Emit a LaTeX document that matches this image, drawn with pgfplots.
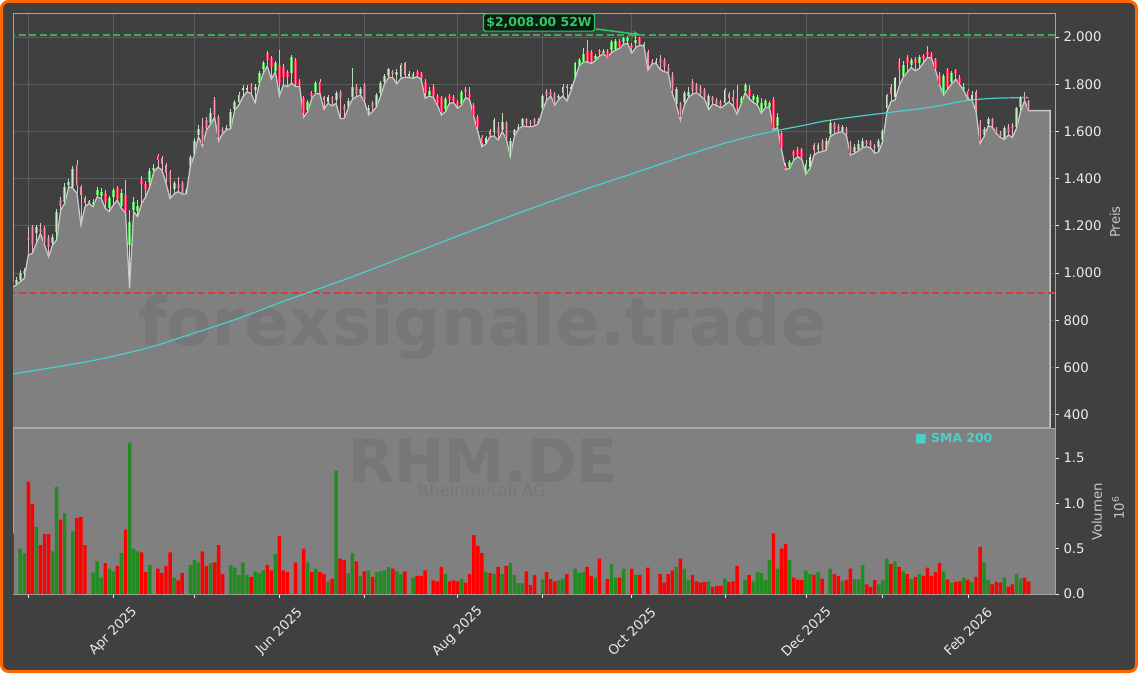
\documentclass[border=0pt]{standalone}
\usepackage{fontspec}
\setmainfont{DejaVu Sans}
\usepackage{pgfplots}
\usepackage{pgfplotstable}
\pgfplotsset{compat=1.18}
\usetikzlibrary{arrows.meta}

\definecolor{bgc}{RGB}{64,64,64}
\definecolor{areac}{RGB}{128,128,128}
\definecolor{arealine}{RGB}{200,200,200}
\definecolor{gridc}{RGB}{92,92,92}
\definecolor{spine}{RGB}{165,165,165}
\definecolor{orangec}{RGB}{255,102,0}
\definecolor{smac}{RGB}{72,209,204}
\definecolor{hic}{RGB}{60,170,95}
\definecolor{loc}{RGB}{215,60,60}
\definecolor{vgreen}{RGB}{34,139,34}
\definecolor{vred}{RGB}{255,0,0}
\definecolor{cgreen}{RGB}{90,200,90}
\definecolor{cgreenin}{RGB}{200,235,200}
\definecolor{cred}{RGB}{235,45,90}
\definecolor{credin}{RGB}{255,140,165}
\definecolor{wickg}{RGB}{185,220,185}
\definecolor{wickr}{RGB}{230,180,195}
\definecolor{wm}{RGB}{119,119,119}
\definecolor{tickc}{RGB}{235,235,235}
\definecolor{labc}{RGB}{200,200,200}
\definecolor{annfill}{RGB}{12,28,18}
\definecolor{anngreen}{RGB}{50,200,100}

\pgfplotsset{
  upd/.style={restrict expr to domain={\thisrow{d}}{0.5:1.5}},
  dnd/.style={restrict expr to domain={\thisrow{d}}{-0.5:0.5}},
  candle/.style={only marks, mark=none, mark size=0pt, mark options={draw=none, fill=none}},
}

\pgfplotstableread{
x lo o c hi v d
-4 940 960 946 972 0.67 0
-3 949 955 971 983 0 1
-2 963 970 999 1013 0.50 1
-1 977 1000 1010 1020 0.45 1
0 1076 1150 1141 1196 1.24 0
1 1083 1196 1119 1205 0.99 0
2 1126 1168 1196 1205 0.74 1
3 1168 1185 1172 1213 0.54 0
4 1119 1190 1125 1200 0.66 0
5 1069 1150 1112 1160 0.66 0
6 1119 1126 1154 1165 0.47 1
7 1140 1175 1260 1270 1.18 1
8 1267 1310 1285 1320 0.82 0
9 1295 1300 1366 1380 0.89 1
10 1366 1372 1385 1400 0 1
11 1359 1366 1441 1455 0.69 1
12 1338 1458 1373 1479 0.84 0
13 1203 1366 1331 1375 0.85 0
14 1281 1319 1298 1325 0.54 0
15 1295 1300 1305 1310 0 1
16 1281 1295 1300 1315 0.235 1
17 1323 1330 1352 1365 0.36 1
18 1316 1325 1345 1360 0.18 1
19 1274 1340 1302 1350 0.34 0
20 1260 1274 1316 1325 0.28 1
21 1288 1321 1352 1362 0.25 1
22 1309 1359 1315 1370 0.31 0
23 1274 1285 1340 1355 0.45 1
24 1256 1330 1262 1394 0.71 0
25 935 1120 1215 1265 1.67 1
26 1260 1268 1300 1323 0.50 1
27 1239 1262 1285 1309 0.47 1
28 1295 1397 1377 1410 0.46 0
29 1323 1377 1355 1390 0.24 0
30 1366 1387 1434 1445 0.32 1
31 1429 1435 1445 1460 0 1
32 1448 1496 1479 1505 0.28 0
33 1436 1486 1462 1495 0.23 0
34 1380 1458 1422 1465 0.31 0
35 1316 1427 1380 1435 0.46 0
36 1335 1356 1380 1390 0.18 1
37 1345 1375 1360 1408 0.15 0
38 1335 1380 1340 1390 0.23 0
39 1335 1340 1350 1360 0 1
40 1451 1455 1493 1500 0.32 1
41 1500 1505 1560 1571 0.375 1
42 1578 1585 1610 1627 0.35 1
43 1538 1620 1545 1655 0.47 0
44 1606 1650 1615 1662 0.31 0
45 1630 1635 1680 1698 0.34 1
46 1660 1733 1670 1745 0.35 0
47 1560 1662 1575 1670 0.54 0
48 1592 1612 1600 1620 0.22 0
49 1606 1608 1615 1625 0 1
50 1612 1617 1684 1695 0.32 1
51 1691 1695 1726 1735 0.29 1
52 1712 1726 1754 1765 0.21 1
53 1747 1775 1783 1795 0.35 1
54 1768 1778 1785 1795 0.21 1
55 1761 1797 1775 1805 0.19 0
56 1722 1775 1790 1800 0.25 1
57 1797 1804 1846 1855 0.23 1
58 1846 1863 1891 1900 0.26 1
59 1877 1931 1903 1940 0.32 0
60 1821 1910 1874 1920 0.26 0
61 1853 1858 1888 1900 0.44 1
62 1750 1880 1805 1945 0.64 0
63 1797 1874 1832 1885 0.26 0
64 1790 1853 1832 1860 0.24 0
65 1804 1846 1917 1925 0 1
66 1790 1903 1800 1910 0.35 0
67 1790 1810 1798 1820 0 0
68 1660 1740 1677 1750 0.50 0
69 1684 1690 1726 1735 0.35 1
70 1740 1761 1750 1770 0.24 0
71 1761 1768 1804 1815 0.28 1
72 1759 1811 1761 1820 0.24 0
73 1694 1744 1733 1752 0.22 0
74 1719 1726 1747 1755 0.14 1
75 1708 1744 1722 1752 0.17 0
76 1719 1733 1761 1770 1.36 1
77 1655 1768 1740 1775 0.39 0
78 1655 1708 1691 1715 0.375 0
79 1698 1705 1730 1740 0.23 1
80 1736 1745 1790 1867 0.45 1
81 1747 1790 1760 1800 0.36 0
82 1754 1760 1780 1790 0.20 1
83 1726 1797 1735 1805 0.25 0
84 1670 1680 1700 1712 0.26 1
85 1684 1722 1705 1730 0.19 0
86 1705 1708 1754 1762 0.24 1
87 1750 1761 1804 1812 0.25 1
88 1804 1811 1835 1842 0.26 1
89 1829 1835 1863 1870 0.30 1
90 1828 1853 1846 1860 0.28 0
91 1801 1840 1850 1865 0.25 1
92 1825 1832 1881 1888 0.22 1
93 1829 1888 1840 1895 0.25 0
94 1829 1835 1845 1855 0 1
95 1825 1832 1843 1850 0.18 1
96 1832 1853 1840 1860 0.20 0
97 1821 1846 1825 1852 0.20 0
98 1740 1811 1761 1820 0.26 0
99 1750 1755 1770 1790 0 1
100 1744 1790 1750 1800 0.15 0
101 1712 1750 1720 1760 0.14 0
102 1669 1740 1684 1750 0.30 0
103 1684 1693 1737 1745 0.22 1
104 1719 1750 1736 1758 0.14 0
105 1722 1747 1730 1755 0.15 0
106 1698 1726 1712 1735 0.14 0
107 1712 1715 1768 1775 0.165 1
108 1744 1780 1768 1790 0.125 0
109 1733 1760 1745 1790 0.22 0
110 1662 1712 1665 1720 0.65 0
111 1599 1662 1620 1670 0.53 0
112 1535 1578 1549 1585 0.45 0
113 1547 1550 1571 1580 0.24 1
114 1578 1600 1585 1612 0.23 0
115 1580 1599 1648 1655 0.22 1
116 1564 1620 1590 1640 0.30 0
117 1599 1605 1640 1677 0.22 1
118 1571 1634 1575 1645 0.31 0
119 1493 1505 1560 1571 0.34 1
120 1578 1585 1605 1612 0.21 1
121 1609 1612 1620 1630 0.12 1
122 1623 1627 1651 1658 0.12 1
123 1620 1651 1637 1658 0.25 0
124 1620 1641 1630 1648 0.10 0
125 1623 1651 1637 1658 0.21 0
126 1634 1637 1645 1655 0 1
127 1691 1698 1750 1757 0.16 1
128 1733 1773 1750 1780 0.24 0
129 1750 1768 1755 1780 0.165 0
130 1712 1758 1726 1765 0.14 0
131 1736 1740 1750 1760 0.15 1
132 1750 1761 1790 1800 0.17 1
133 1729 1794 1782 1800 0.22 0
134 1773 1778 1790 1800 0 1
135 1825 1828 1888 1895 0.28 1
136 1877 1881 1902 1910 0.235 1
137 1893 1900 1930 1952 0.24 1
138 1895 1940 1900 1987 0.30 0
139 1888 1935 1895 1945 0.20 0
140 1900 1905 1920 1930 0.18 1
141 1919 1941 1931 1950 0.39 0
142 1928 1932 1940 1950 0 1
143 1914 1942 1917 1950 0.165 0
144 1934 1945 1980 1988 0.33 1
145 1945 1948 1983 1990 0.18 1
146 1952 1980 1959 1990 0.18 0
147 1970 1980 1994 2000 0.28 1
148 1973 1985 1995 2005 0 1
149 1931 1966 1952 1975 0.28 0
150 1956 1976 1987 2008 0.21 1
151 1966 1994 1970 2000 0.21 0
152 1962 1966 1972 1980 0 1
153 1860 1935 1880 1945 0.29 0
154 1886 1895 1890 1905 0 0
155 1888 1892 1900 1910 0 1
156 1863 1905 1890 1925 0.22 0
157 1853 1901 1875 1910 0.125 0
158 1849 1868 1855 1885 0.22 0
159 1761 1840 1770 1850 0.26 0
160 1712 1715 1780 1790 0.30 1
161 1648 1719 1662 1725 0.39 0
162 1712 1726 1764 1772 0.28 1
163 1744 1750 1765 1790 0.155 1
164 1758 1811 1770 1820 0.21 0
165 1764 1797 1770 1805 0.14 0
166 1750 1790 1764 1798 0.125 0
167 1736 1775 1740 1782 0.13 0
168 1693 1712 1750 1758 0.14 1
169 1716 1744 1730 1752 0.08 0
170 1710 1733 1715 1740 0.09 0
171 1700 1725 1710 1735 0.09 0
172 1712 1719 1775 1782 0.17 1
173 1725 1760 1740 1768 0.13 0
174 1708 1745 1730 1775 0.14 0
175 1674 1740 1690 1797 0.31 0
176 1716 1720 1740 1750 0 1
177 1764 1770 1797 1805 0.155 1
178 1739 1780 1750 1797 0.21 0
179 1722 1733 1750 1758 0.14 1
180 1713 1720 1745 1755 0.24 1
181 1677 1685 1720 1740 0.23 1
182 1702 1708 1730 1738 0.155 1
183 1702 1705 1722 1730 0.375 1
184 1606 1733 1615 1745 0.67 0
185 1617 1622 1660 1680 0.28 1
186 1521 1592 1530 1600 0.50 0
187 1439 1453 1443 1465 0.55 0
188 1443 1450 1472 1480 0.375 1
189 1479 1514 1496 1520 0.18 0
190 1493 1520 1500 1535 0.155 0
191 1482 1524 1490 1530 0.155 0
192 1419 1425 1460 1478 0.26 1
193 1443 1448 1490 1505 0.22 1
194 1500 1542 1521 1550 0.21 0
195 1511 1520 1542 1550 0.24 1
196 1514 1561 1521 1568 0.17 0
197 1521 1525 1560 1570 0 1
198 1578 1590 1634 1650 0.28 1
199 1589 1630 1610 1640 0.22 0
200 1595 1623 1603 1630 0.20 0
201 1599 1601 1617 1625 0.14 1
202 1583 1609 1590 1620 0.155 0
203 1500 1540 1510 1560 0.28 0
204 1507 1512 1535 1545 0.165 1
205 1518 1522 1545 1565 0.16 1
206 1532 1535 1560 1570 0.32 1
207 1535 1558 1545 1565 0.105 0
208 1530 1555 1540 1562 0.08 0
209 1507 1538 1528 1545 0.155 0
210 1514 1535 1561 1568 0.105 1
211 1561 1565 1600 1610 0.155 1
212 1684 1698 1754 1760 0.39 1
213 1726 1790 1760 1800 0.33 0
214 1733 1747 1825 1832 0.36 1
215 1792 1900 1862 1910 0.30 0
216 1829 1835 1880 1900 0.25 1
217 1849 1914 1891 1922 0.22 0
218 1871 1881 1902 1910 0.165 1
219 1857 1905 1890 1915 0.19 0
220 1867 1888 1914 1922 0.22 1
221 1891 1921 1905 1930 0.20 0
222 1914 1938 1924 1962 0.29 0
223 1910 1928 1915 1935 0.20 0
224 1860 1905 1865 1912 0.24 0
225 1797 1840 1801 1850 0.34 0
226 1754 1760 1835 1845 0.25 1
227 1780 1860 1790 1868 0.16 0
228 1801 1811 1849 1858 0.125 1
229 1821 1860 1846 1866 0.135 0
230 1797 1825 1805 1840 0.14 0
231 1773 1778 1790 1805 0.18 1
232 1736 1770 1745 1780 0.155 0
233 1733 1738 1755 1770 0.135 1
234 1684 1768 1690 1775 0.19 0
235 1549 1640 1560 1650 0.52 0
236 1578 1583 1609 1620 0.35 1
237 1623 1631 1651 1660 0.155 1
238 1620 1651 1627 1658 0.105 0
239 1592 1609 1599 1618 0.135 0
240 1575 1592 1580 1600 0.125 0
241 1566 1570 1613 1625 0.18 1
242 1585 1620 1595 1630 0.08 0
243 1575 1627 1613 1635 0.105 0
244 1613 1620 1698 1705 0.22 1
245 1684 1702 1744 1752 0.17 1
246 1730 1750 1740 1765 0.18 0
247 1688 1729 1700 1735 0.14 0
252.3 1688 1688 1688 1688 0 2
}\ohlc

\pgfplotstableread{
x s
-4 572
8 605
18 636
30 685
40 740
52 808
63 880
77 965
87 1030
99 1110
112 1196
124 1272
136 1346
149 1420
161 1490
171 1545
181 1590
191 1624
197 1645
205 1664
212 1679
223 1703
230 1726
234 1735
238 1740
242 1742
247 1743
}\sma

\begin{document}
\begin{tikzpicture}[x=1pt,y=1pt]
\useasboundingbox (0,0) rectangle (1138,673);
\fill[bgc, draw=orangec, line width=3pt, rounded corners=7pt] (1.5,1.5) rectangle (1136.5,671.5);

\begin{axis}[
  at={(13pt,245pt)}, anchor=south west, scale only axis,
  width=1042pt, height=415pt,
  xmin=-3.78, xmax=253.5, ymin=343.2, ymax=2101.7,
  axis background/.style={fill=bgc},
  axis line style={spine, line width=0.8pt},
  xtick={0,21,41,62,83,106,127,149,172,192,211,232},
  xticklabels={}, xtick style={draw=none},
  ytick={400,600,800,1000,1200,1400,1600,1800,2000},
  yticklabels={400,600,800,1.000,1.200,1.400,1.600,1.800,2.000},
  ytick pos=right, yticklabel pos=right,
  tick align=outside, major tick length=4pt,
  ytick style={tickc, line width=0.8pt},
  xmajorgrids, ymajorgrids,
  major grid style={gridc, line width=0.8pt},
  /pgf/number format/assume math mode=true,
  ticklabel style={font=\fontsize{13.3}{16}\selectfont, text=tickc},
  yticklabel style={anchor=west, xshift=1pt},
]
\addplot[fill=areac, draw=arealine, line width=1.3pt] table[x=x,y=lo]{\ohlc} \closedcycle;
\node[anchor=base, text=wm, font=\bfseries\fontsize{66}{70}\selectfont, inner sep=0pt] at (rel axis cs:0.4501,0.1976) {forexsignale.trade};
\addplot[hic, line width=1.5pt, dash pattern=on 7pt off 3.5pt] coordinates {(-5,2008) (255,2008)};
\addplot[loc, line width=1.5pt, dash pattern=on 7pt off 3.5pt] coordinates {(-5,915) (255,915)};
\addplot[smac, line width=1.2pt, smooth] table[x=x,y=s]{\sma};
% wicks
\addplot[candle, upd, error bars/.cd, y dir=both, y explicit, error mark=none, error bar style={wickg, line width=0.8pt}]
  table[x=x, y expr={(\thisrow{lo}+\thisrow{hi})/2}, y error expr={(\thisrow{hi}-\thisrow{lo})/2}]{\ohlc};
\addplot[candle, dnd, error bars/.cd, y dir=both, y explicit, error mark=none, error bar style={wickr, line width=0.8pt}]
  table[x=x, y expr={(\thisrow{lo}+\thisrow{hi})/2}, y error expr={(\thisrow{hi}-\thisrow{lo})/2}]{\ohlc};
% bodies
\addplot[candle, upd, error bars/.cd, y dir=both, y explicit, error mark=none, error bar style={cgreen, line width=2.8pt}]
  table[x=x, y expr={(\thisrow{o}+\thisrow{c})/2}, y error expr={abs(\thisrow{c}-\thisrow{o})/2}]{\ohlc};
\addplot[candle, upd, error bars/.cd, y dir=both, y explicit, error mark=none, error bar style={cgreenin, line width=1.1pt}]
  table[x=x, y expr={(\thisrow{o}+\thisrow{c})/2}, y error expr={abs(\thisrow{c}-\thisrow{o})/2}]{\ohlc};
\addplot[candle, dnd, error bars/.cd, y dir=both, y explicit, error mark=none, error bar style={cred, line width=2.8pt}]
  table[x=x, y expr={(\thisrow{o}+\thisrow{c})/2}, y error expr={abs(\thisrow{c}-\thisrow{o})/2}]{\ohlc};
\addplot[candle, dnd, error bars/.cd, y dir=both, y explicit, error mark=none, error bar style={credin, line width=1.1pt}]
  table[x=x, y expr={(\thisrow{o}+\thisrow{c})/2}, y error expr={abs(\thisrow{c}-\thisrow{o})/2}]{\ohlc};
\coordinate (tip) at (axis cs:151,2010);
\end{axis}

\begin{axis}[
  at={(13pt,79pt)}, anchor=south west, scale only axis,
  width=1042pt, height=166pt,
  xmin=-3.78, xmax=253.5, ymin=0, ymax=1.831,
  axis background/.style={fill=areac},
  axis line style={spine, line width=0.8pt},
  xtick={0,21,41,62,83,106,127,149,172,192,211,232},
  xticklabels={,Apr 2025,,Jun 2025,,Aug 2025,,Oct 2025,,Dec 2025,,Feb 2026},
  ytick={0,0.5,1,1.5}, yticklabels={0.0,0.5,1.0,1.5},
  xtick pos=bottom, ytick pos=right, yticklabel pos=right,
  tick align=outside, major tick length=4pt,
  tick style={tickc, line width=0.8pt},
  /pgf/number format/assume math mode=true,
  ticklabel style={font=\fontsize{13.3}{16}\selectfont, text=tickc},
  yticklabel style={anchor=west, xshift=1pt},
  xticklabel style={anchor=center, yshift=-33.5pt, rotate=45},
]
\node[anchor=base, text=wm, font=\bfseries\fontsize{60}{64}\selectfont, inner sep=0pt] at (rel axis cs:0.451,0.6747) {RHM.DE};
\node[anchor=base, text=wm, font=\fontsize{16.5}{18}\selectfont, inner sep=0pt] at (rel axis cs:0.450,0.590) {Rheinmetall AG};
\addplot[ybar, bar width=0.85, bar shift=0pt, fill=vgreen, draw=none, upd] table[x=x,y=v]{\ohlc};
\addplot[ybar, bar width=0.85, bar shift=0pt, fill=vred, draw=none, dnd] table[x=x,y=v]{\ohlc};
\end{axis}

% labels
\node[rotate=90, text=labc, font=\fontsize{13.3}{16}\selectfont] at (1115,451) {Preis};
\node[rotate=90, text=labc, font=\fontsize{13.3}{16}\selectfont] at (1097,161) {Volumen};
\node[rotate=90, text=labc, font=\fontsize{13.3}{16}\selectfont] at (1118,165) {10\textsuperscript{6}};
% legend
\node[anchor=base west, inner sep=0pt, text=smac, font=\bfseries\fontsize{12.4}{14}\selectfont] at (915,230.8) {■ SMA 200};
% annotation
\draw[-{Stealth[length=7pt,width=6pt]}, anngreen, line width=1.5pt] (596,644) -- (tip);
\node[fill=annfill, draw=anngreen, line width=1.2pt, rounded corners=2pt, text=anngreen, font=\bfseries\fontsize{12.4}{14}\selectfont, inner xsep=3pt, inner ysep=3pt] at (539,650.5) {\$2,008.00 52W};
\end{tikzpicture}
\end{document}
